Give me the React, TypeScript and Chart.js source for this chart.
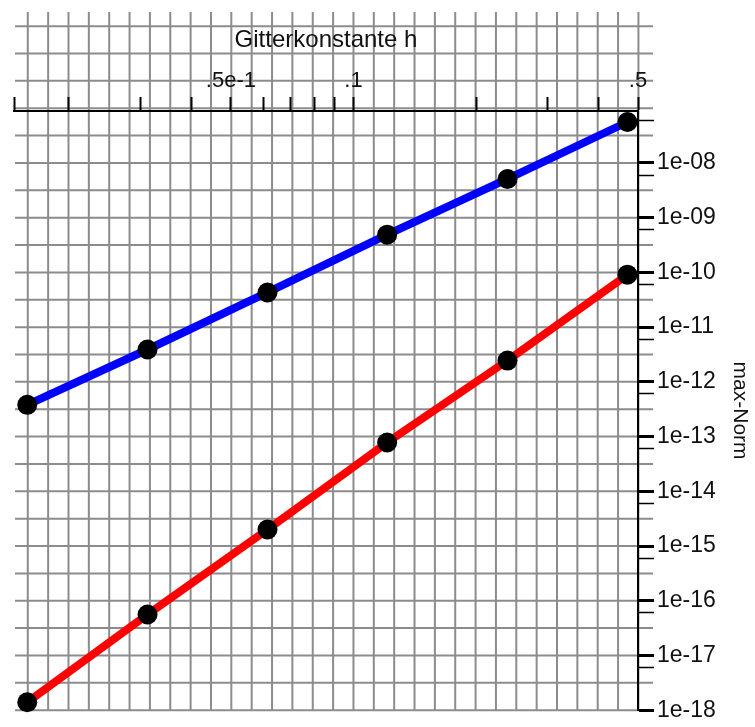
import { useEffect, useRef } from 'react';
import { Chart, registerables } from 'chart.js';

Chart.register(...registerables);

// ---- data ----
const hValues = [0.0158, 0.0312, 0.0615, 0.121, 0.239, 0.471];
const blueErrors = [3.8e-13, 3.9e-12, 4.3e-11, 4.9e-10, 5.1e-9, 5.6e-8];
const redErrors = [1.4e-18, 5.6e-17, 2.0e-15, 7.8e-14, 2.45e-12, 9.1e-11];

// ---- axes ----
const xMin = 0.01466;
const xMax = 0.5;
const yMin = 1e-18;
const yMax = 8.9e-8;
const xTickValues = [0.01466, 0.02, 0.03, 0.04, 0.05, 0.06, 0.07, 0.08, 0.09, 0.1, 0.2, 0.3, 0.4, 0.5];
const xTickLabels = ['', '', '', '', '.5e-1', '', '', '', '', '.1', '', '', '', '.5'];
const yMajorValues = [1e-8, 1e-9, 1e-10, 1e-11, 1e-12, 1e-13, 1e-14, 1e-15, 1e-16, 1e-17, 1e-18];
const yMinorValues = [6e-8, 6e-9, 6e-10, 6e-11, 6e-12, 6e-13, 6e-14, 6e-15, 6e-16, 6e-17, 6e-18];
const xTitle = 'Gitterkonstante h';
const yTitle = 'max-Norm';

// background graph-paper grid (in log10 units)
const vGridStart = -1.8;
const vGridEnd = -0.3;
const vGridStep = 0.05;
const hGridStart = -5.5;
const hGridEnd = -18;
const hGridStep = 0.5;

const FONT = "'Liberation Sans', Arial, sans-serif";

const paperGrid = {
  id: 'paperGrid',
  beforeDraw(chart: any) {
    const { ctx, chartArea } = chart;
    const xs = chart.scales.x;
    const ys = chart.scales.y;
    ctx.save();
    ctx.strokeStyle = '#8c8c8c';
    ctx.lineWidth = 2;
    const top = chartArea.top - 99;
    const bottom = chartArea.bottom;
    const left = chartArea.left + 1;
    const right = chartArea.right + 15;
    const nv = Math.round((vGridEnd - vGridStart) / vGridStep);
    for (let k = 0; k <= nv; k++) {
      const px = xs.getPixelForValue(Math.pow(10, vGridStart + k * vGridStep));
      ctx.beginPath();
      ctx.moveTo(px, top);
      ctx.lineTo(px, bottom);
      ctx.stroke();
    }
    const nh = Math.round((hGridStart - hGridEnd) / hGridStep);
    for (let k = 0; k <= nh; k++) {
      const py = ys.getPixelForValue(Math.pow(10, hGridStart - k * hGridStep));
      ctx.beginPath();
      ctx.moveTo(left, py);
      ctx.lineTo(right, py);
      ctx.stroke();
    }
    ctx.restore();
  },
};

function isMajor(v: number) {
  const l = Math.log10(v);
  return Math.abs(l - Math.round(l)) < 1e-6;
}

export default function App() {
  const ref = useRef<HTMLCanvasElement | null>(null);
  useEffect(() => {
    document.body.style.margin = '0';
    if (!ref.current) return;
    const chart = new Chart(ref.current, {
      type: 'line',
      data: {
        datasets: [
          {
            data: hValues.map((h, i) => ({ x: h, y: blueErrors[i] })),
            borderColor: '#0000ff',
            borderWidth: 8,
            pointRadius: 10,
            pointBackgroundColor: '#000',
            pointBorderColor: '#000',
            pointBorderWidth: 0,
            clip: false as any,
          },
          {
            data: hValues.map((h, i) => ({ x: h, y: redErrors[i] })),
            borderColor: '#ff0000',
            borderWidth: 8,
            pointRadius: 10,
            pointBackgroundColor: '#000',
            pointBorderColor: '#000',
            pointBorderWidth: 0,
            clip: false as any,
          },
        ],
      },
      options: {
        animation: false,
        responsive: false,
        layout: { padding: { left: 14, right: 0, top: 0, bottom: 16 } },
        plugins: { legend: { display: false }, tooltip: { enabled: false } },
        scales: {
          x: {
            type: 'logarithmic',
            position: 'top',
            min: xMin,
            max: xMax,
            afterBuildTicks: (scale: any) => {
              scale.ticks = xTickValues.map((v) => ({ value: v }));
            },
            afterFit: (scale: any) => {
              scale.height = 111;
            },
            ticks: {
              autoSkip: false,
              maxRotation: 0,
              padding: 3,
              color: '#111',
              font: { family: FONT, size: 22 },
              callback: (_v: any, i: number) => xTickLabels[i] ?? '',
            },
            grid: {
              drawOnChartArea: false,
              drawTicks: true,
              tickLength: 14,
              tickColor: '#000',
              tickWidth: 2,
            },
            border: { display: true, color: '#000', width: 2 },
            title: {
              display: true,
              text: xTitle,
              color: '#111',
              font: { family: FONT, size: 24 },
              padding: { top: 26, bottom: 0 },
            },
          },
          y: {
            type: 'logarithmic',
            position: 'right',
            min: yMin,
            max: yMax,
            afterBuildTicks: (scale: any) => {
              const vals = [...yMajorValues, ...yMinorValues].sort((a, b) => a - b);
              scale.ticks = vals.map((v) => ({ value: v }));
            },
            afterFit: (scale: any) => {
              scale.width = 117;
            },
            ticks: {
              autoSkip: false,
              padding: 3,
              color: '#111',
              font: { family: FONT, size: 23 },
              callback: (v: any) => {
                const n = Number(v);
                if (!isMajor(n)) return '';
                const e = Math.round(Math.log10(n));
                return '1e-' + String(-e).padStart(2, '0');
              },
            },
            grid: {
              drawOnChartArea: false,
              drawTicks: true,
              tickLength: 16,
              tickColor: '#000',
              tickWidth: (c: any) => (c.tick && isMajor(c.tick.value) ? 3 : 1.5),
            },
            border: { display: true, color: '#000', width: 2 },
            title: {
              display: true,
              text: yTitle,
              color: '#111',
              font: { family: FONT, size: 21 },
              padding: { top: 3, bottom: 0 },
            },
          },
        },
      } as any,
      plugins: [paperGrid],
    });
    return () => chart.destroy();
  }, []);
  return (
    <div style={{ position: 'absolute', left: 0, top: 0, width: 755, height: 727, background: '#fff' }}>
      <canvas ref={ref} width={755} height={727} />
    </div>
  );
}
